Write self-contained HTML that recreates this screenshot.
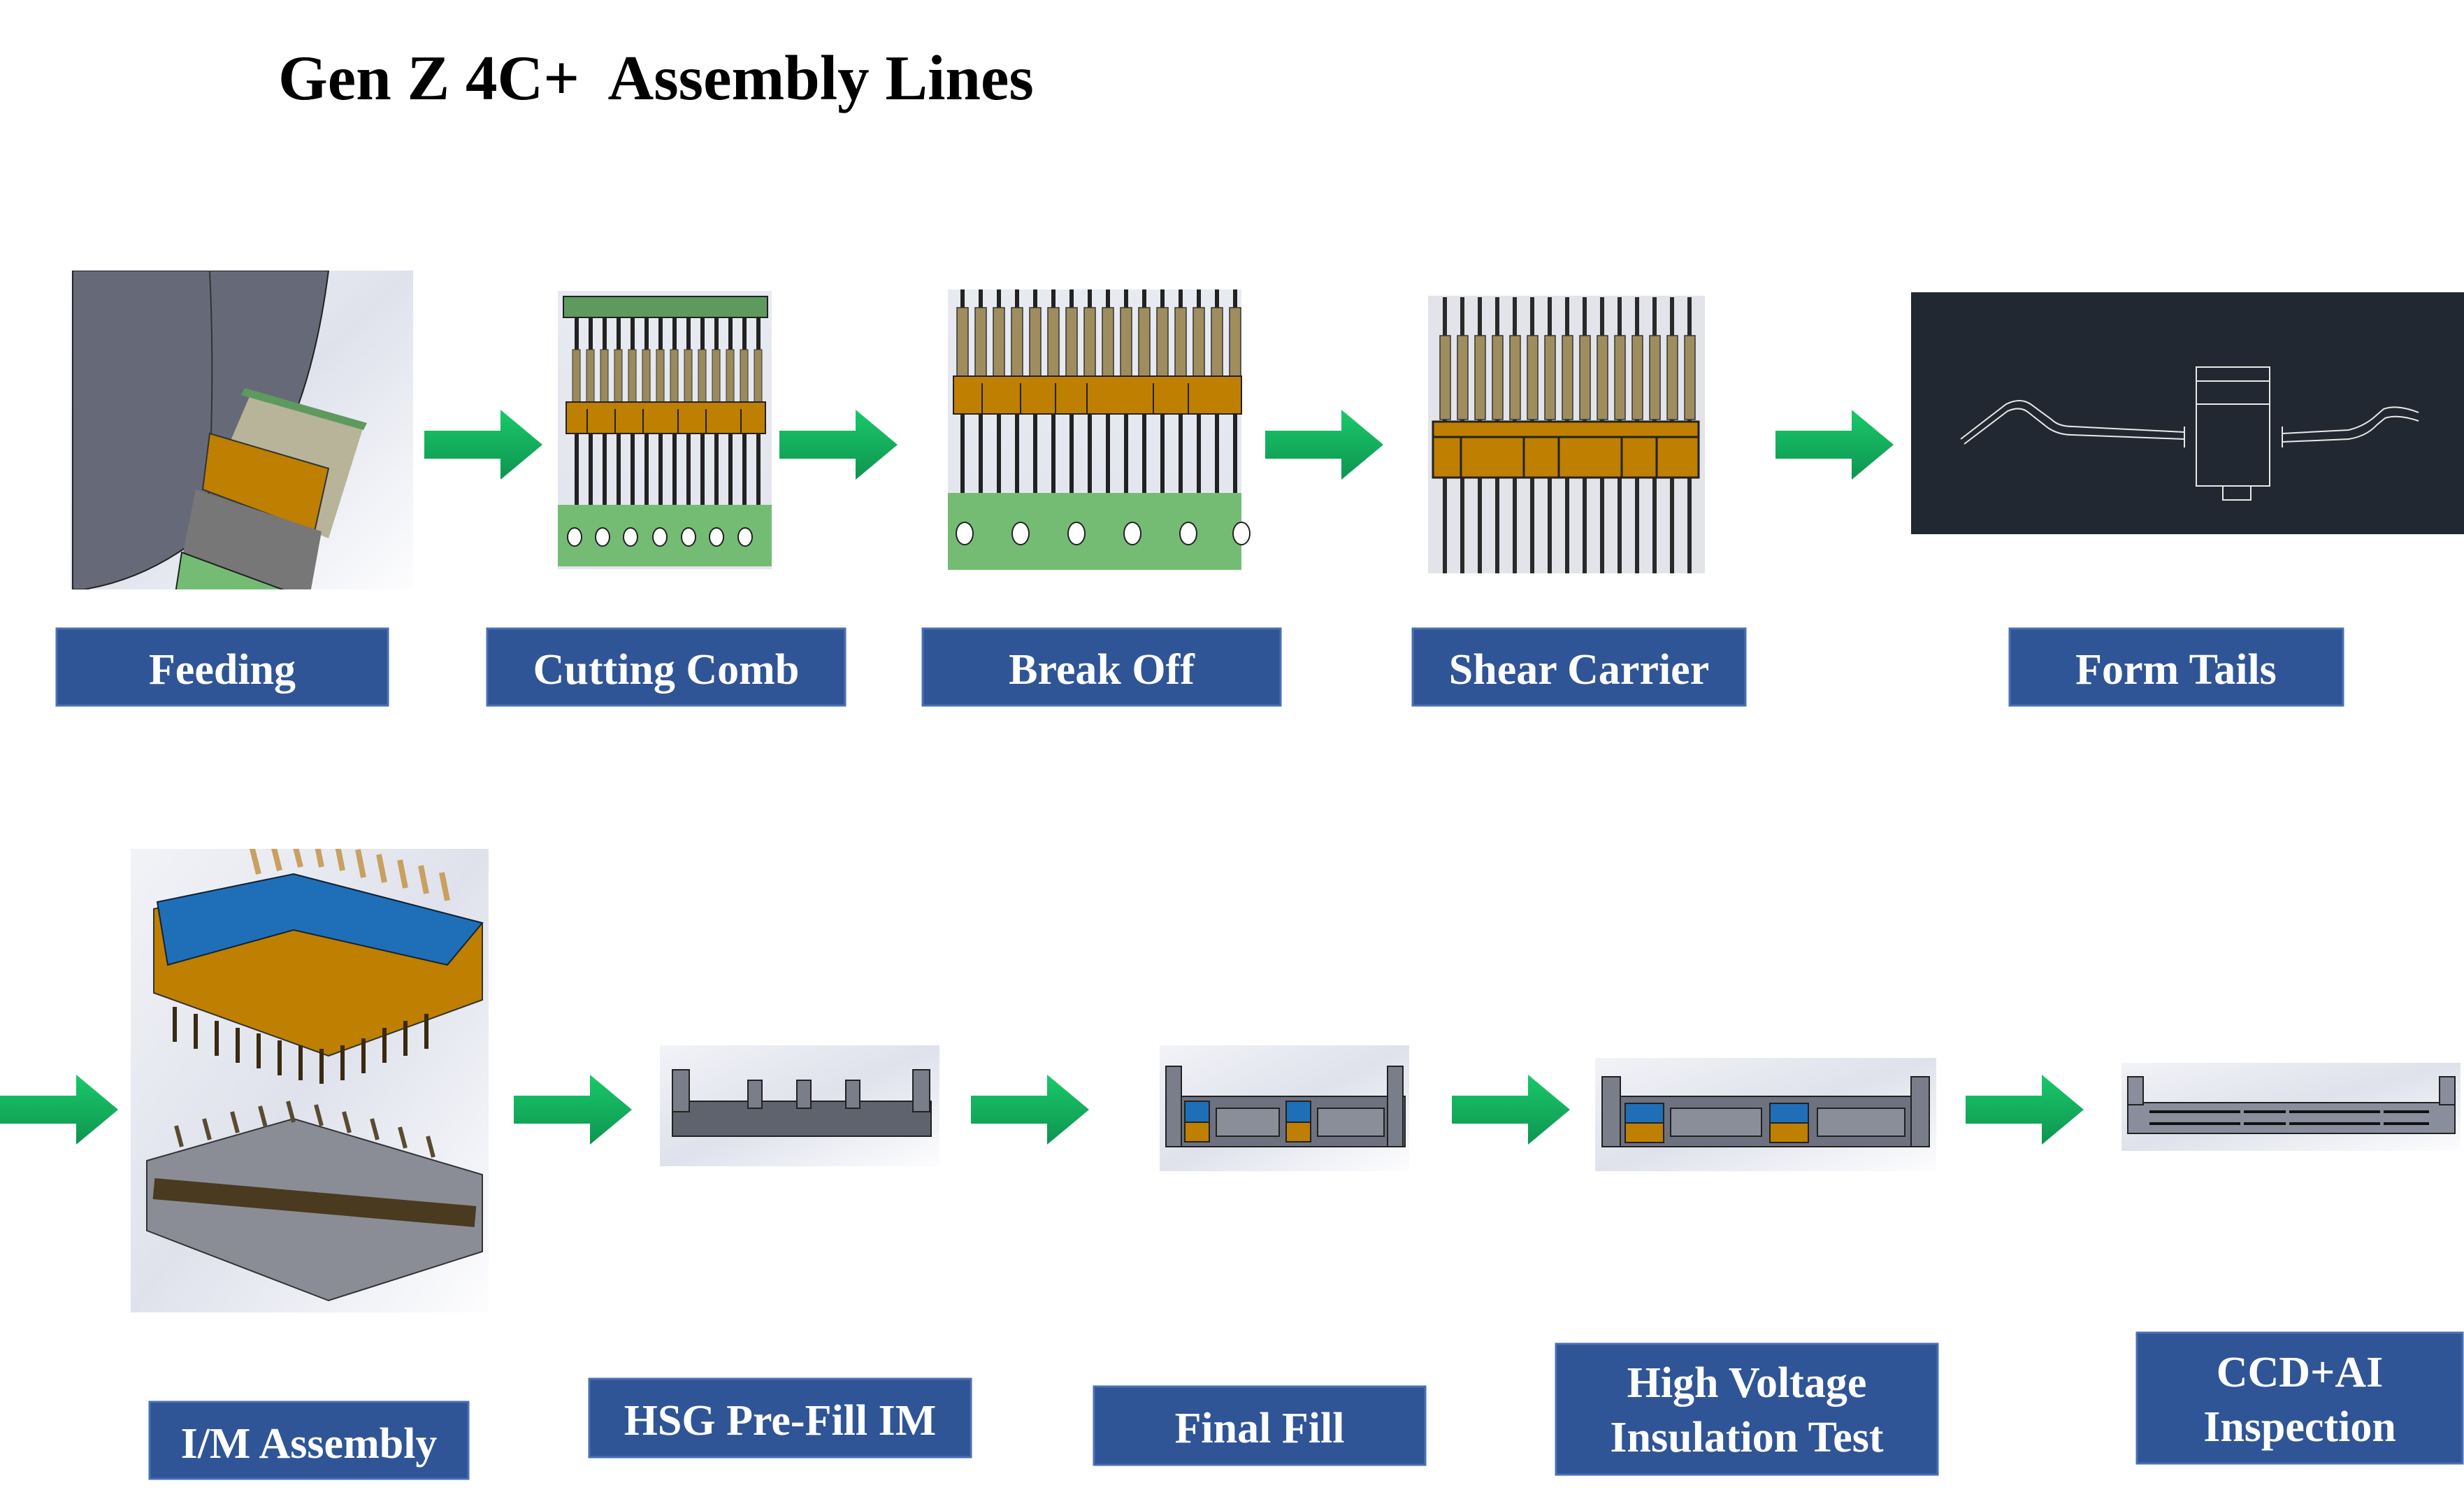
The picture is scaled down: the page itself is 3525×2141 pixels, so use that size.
<!DOCTYPE html>
<html><head><meta charset="utf-8"><style>
html,body{margin:0;padding:0;background:#fff;}
svg{display:block;}
text{font-family:"Liberation Serif",serif;font-weight:bold;}
</style></head><body>
<svg width="3525" height="2141" viewBox="0 0 3525 2141" xmlns="http://www.w3.org/2000/svg">
<defs>
<linearGradient id="ag" x1="0" y1="0" x2="0" y2="1"><stop offset="0" stop-color="#19c96a"/><stop offset="1" stop-color="#0e9450"/></linearGradient>
<linearGradient id="bg" x1="0" y1="0" x2="1" y2="1"><stop offset="0" stop-color="#f2f3f7"/><stop offset="0.5" stop-color="#dfe2ec"/><stop offset="1" stop-color="#fdfdfe"/></linearGradient>
<linearGradient id="bgv" x1="0" y1="0" x2="0" y2="1"><stop offset="0" stop-color="#e8eaf1"/><stop offset="1" stop-color="#e3e5ee"/></linearGradient>
<clipPath id="fc"><rect x="101" y="387" width="490" height="456"/></clipPath>
<clipPath id="ic"><rect x="187" y="1214" width="512" height="663"/></clipPath>
<pattern id="pins1" x="815" y="0" width="20" height="2141" patternUnits="userSpaceOnUse">
<rect x="7" y="0" width="6" height="2141" fill="#222"/><rect x="4" y="500" width="11" height="75" fill="#9a8a5c" stroke="#333" stroke-width="1"/></pattern>
<pattern id="pins2" x="1364" y="0" width="26" height="2141" patternUnits="userSpaceOnUse">
<rect x="10" width="6" height="2141" fill="#222"/><rect x="5" y="440" width="16" height="100" fill="#a08d5e" stroke="#333" stroke-width="1.5"/></pattern>
<pattern id="pins3" x="2055" y="0" width="25" height="2141" patternUnits="userSpaceOnUse">
<rect x="9" width="6" height="2141" fill="#2a2a2a"/><rect x="5" y="480" width="15" height="120" fill="#a08d5e" stroke="#333" stroke-width="1.5"/></pattern>
<g id="arrow"><polygon points="0,30 109,30 109,0 169,50 109,100 109,70 0,70" fill="url(#ag)" transform="translate(0,-50)"/></g>
</defs>

<text x="398" y="142" font-size="91" fill="#000" xml:space="preserve">Gen Z 4C+  Assembly Lines</text>

<!-- Feeding -->
<rect x="101" y="387" width="490" height="456" fill="url(#bg)"/>
<g clip-path="url(#fc)">
<path d="M104,387 L470,387 Q430,700 270,780 Q200,830 120,843 L104,843 Z" fill="#666a78" stroke="#222" stroke-width="2"/>
<path d="M300,387 Q310,600 290,820" stroke="#333" fill="none" stroke-width="2"/>
<polygon points="360,560 520,610 470,770 300,700" fill="#b8b49a"/>
<polygon points="350,555 525,605 520,615 345,565" fill="#5e9a5e"/>
<polygon points="300,620 470,670 450,760 290,700" fill="#bf7f00" stroke="#333" stroke-width="2"/>
<polygon points="280,700 460,760 440,870 260,800" fill="#777" />
<polygon points="260,790 450,860 420,1010 240,920" fill="#74bc74" stroke="#222" stroke-width="2"/>
<g fill="#fff" stroke="#222" stroke-width="2"><ellipse cx="272" cy="858" rx="9" ry="13"/><ellipse cx="298" cy="878" rx="9" ry="13"/><ellipse cx="330" cy="895" rx="9" ry="13"/></g>
</g>

<!-- Cutting Comb -->
<rect x="798" y="416" width="306" height="398" fill="url(#bgv)"/>
<rect x="815" y="453" width="282" height="270" fill="url(#pins1)"/>
<rect x="806" y="424" width="292" height="30" fill="#5e9a5e" stroke="#222" stroke-width="2"/>
<rect x="810" y="575" width="285" height="45" fill="#bf7f00" stroke="#222" stroke-width="2"/>
<g stroke="#222" stroke-width="2" fill="none"><path d="M840,585v35M880,585v35M920,585v35M970,585v35M1010,585v35M1060,585v35"/></g>
<rect x="798" y="722" width="306" height="88" fill="#74bc74"/>
<g fill="#fff" stroke="#222" stroke-width="2"><ellipse cx="822" cy="768" rx="10" ry="13"/><ellipse cx="862" cy="768" rx="10" ry="13"/><ellipse cx="902" cy="768" rx="10" ry="13"/><ellipse cx="944" cy="768" rx="10" ry="13"/><ellipse cx="985" cy="768" rx="10" ry="13"/><ellipse cx="1025" cy="768" rx="10" ry="13"/><ellipse cx="1066" cy="768" rx="10" ry="13"/></g>
<use href="#arrow" x="607" y="636"/>

<!-- Break Off -->
<rect x="1356" y="414" width="420" height="400" fill="url(#bgv)"/>
<rect x="1364" y="414" width="412" height="300" fill="url(#pins2)"/>
<rect x="1364" y="538" width="412" height="54" fill="#bf7f00" stroke="#222" stroke-width="2"/>
<g stroke="#222" stroke-width="2"><path d="M1405,548v44M1460,548v44M1510,548v44M1555,548v44M1650,548v44M1700,548v44"/></g>
<rect x="1356" y="705" width="420" height="110" fill="#74bc74"/>
<g fill="#fff" stroke="#222" stroke-width="2"><ellipse cx="1380" cy="763" rx="12" ry="16"/><ellipse cx="1460" cy="763" rx="12" ry="16"/><ellipse cx="1540" cy="763" rx="12" ry="16"/><ellipse cx="1620" cy="763" rx="12" ry="16"/><ellipse cx="1700" cy="763" rx="12" ry="16"/><ellipse cx="1776" cy="763" rx="12" ry="16"/></g>
<use href="#arrow" x="1115" y="636"/>

<!-- Shear Carrier -->
<rect x="2043" y="423" width="396" height="397" fill="#e2e4ea"/>
<rect x="2055" y="425" width="375" height="395" fill="url(#pins3)"/>
<rect x="2050" y="603" width="380" height="80" fill="#bf7f00" stroke="#222" stroke-width="3"/>
<g stroke="#222" stroke-width="3"><path d="M2090,625v58M2180,625v58M2230,625v58M2320,625v58M2370,625v58M2050,625h380"/></g>
<use href="#arrow" x="1810" y="636"/>

<!-- Form Tails -->
<rect x="2734" y="418" width="791" height="346" fill="#222831"/>
<g stroke="#e8e8e8" stroke-width="2" fill="none">
<path d="M2805,628 L2870,578 Q2890,568 2905,578 L2935,600 Q2945,610 2965,610 L3125,618 M2810,635 L2872,588 Q2890,580 2902,590 L2930,612 Q2945,622 2965,622 L3125,628"/>
<rect x="3142" y="525" width="105" height="170"/><path d="M3142,545h105 M3142,578h105 M3125,610v30 M3265,610v30 M3180,695v20h40v-20"/>
<path d="M3265,620 L3360,615 Q3380,610 3395,598 L3410,585 Q3430,578 3460,590 M3265,632 L3360,628 Q3385,624 3400,608 L3412,598 Q3430,592 3460,602"/>
</g>
<use href="#arrow" x="2540" y="636"/>

<!-- Row1 labels -->
<g fill="#2f5597" stroke="#4a6fb5" stroke-width="3">
<rect x="81" y="899" width="474" height="110"/><rect x="697" y="899" width="512" height="110"/><rect x="1320" y="899" width="512" height="110"/><rect x="2021" y="899" width="476" height="110"/><rect x="2875" y="899" width="477" height="110"/>
</g>
<g fill="#fff" font-size="62" text-anchor="middle">
<text x="318" y="978">Feeding</text><text x="953" y="978">Cutting Comb</text><text x="1576" y="978">Break Off</text><text x="2259" y="978">Shear Carrier</text><text x="3113" y="978">Form Tails</text>
</g>

<!-- Row 2 -->
<use href="#arrow" x="0" y="1587"/>
<rect x="187" y="1214" width="512" height="663" fill="url(#bg)"/>
<g clip-path="url(#ic)">
<polygon points="220,1300 420,1250 690,1320 690,1430 470,1510 220,1420" fill="#bf7f00" stroke="#333" stroke-width="2"/>
<polygon points="225,1290 420,1250 690,1320 640,1380 420,1330 240,1380" fill="#1f6fb8" stroke="#123" stroke-width="2"/>
<g stroke="#c8a060" stroke-width="8"><path d="M370,1250l-10,-40M400,1245l-10,-40M430,1240l-10,-40M460,1240l-8,-40M490,1245l-8,-40M520,1255l-8,-40M550,1262l-8,-40M580,1270l-8,-40M610,1278l-8,-40M640,1288l-8,-40"/></g>
<g stroke="#3a2a10" stroke-width="6"><path d="M250,1440v50M280,1450v50M310,1460v50M340,1470v50M370,1478v50M400,1488v50M430,1495v50M460,1500v50M490,1495v50M520,1485v50M550,1470v50M580,1460v50M610,1450v50"/></g>
<polygon points="210,1660 420,1600 690,1680 690,1790 470,1860 210,1760" fill="#8a8d96" stroke="#333" stroke-width="2"/>
<g stroke="#5a4a30" stroke-width="6"><path d="M260,1640l-8,-30M300,1630l-8,-30M340,1620l-8,-30M380,1612l-8,-30M420,1605l-8,-30M460,1610l-8,-30M500,1620l-8,-30M540,1630l-8,-30M580,1642l-8,-30M620,1655l-8,-30"/></g>
<path d="M220,1700 L680,1740" stroke="#4a3a20" stroke-width="30"/>
</g>
<use href="#arrow" x="735" y="1587"/>

<rect x="944" y="1495" width="400" height="173" fill="url(#bg)"/>
<rect x="962" y="1575" width="370" height="50" fill="#5f636e" stroke="#222" stroke-width="2"/>
<g fill="#7a7e8a" stroke="#222" stroke-width="2"><rect x="962" y="1530" width="24" height="60"/><rect x="1306" y="1530" width="24" height="60"/><rect x="1070" y="1545" width="20" height="40"/><rect x="1140" y="1545" width="20" height="40"/><rect x="1210" y="1545" width="20" height="40"/></g>
<use href="#arrow" x="1389" y="1587"/>

<rect x="1659" y="1495" width="357" height="180" fill="url(#bg)"/>
<rect x="1668" y="1568" width="342" height="72" fill="#6e7280" stroke="#222" stroke-width="2"/>
<g stroke="#222" stroke-width="2"><rect x="1668" y="1525" width="22" height="115" fill="#7a7e8a"/><rect x="1985" y="1525" width="22" height="115" fill="#7a7e8a"/>
<rect x="1695" y="1575" width="35" height="30" fill="#1f6fb8"/><rect x="1695" y="1605" width="35" height="28" fill="#bf7f00"/>
<rect x="1840" y="1575" width="35" height="30" fill="#1f6fb8"/><rect x="1840" y="1605" width="35" height="28" fill="#bf7f00"/>
<rect x="1740" y="1585" width="90" height="40" fill="#8a8e98"/><rect x="1885" y="1585" width="95" height="40" fill="#8a8e98"/></g>
<use href="#arrow" x="2077" y="1587"/>

<rect x="2282" y="1513" width="488" height="162" fill="url(#bg)"/>
<rect x="2292" y="1568" width="468" height="72" fill="#6e7280" stroke="#222" stroke-width="2"/>
<g stroke="#222" stroke-width="2"><rect x="2292" y="1540" width="26" height="100" fill="#7a7e8a"/><rect x="2734" y="1540" width="26" height="100" fill="#7a7e8a"/>
<rect x="2325" y="1578" width="55" height="28" fill="#1f6fb8"/><rect x="2325" y="1606" width="55" height="28" fill="#bf7f00"/>
<rect x="2532" y="1578" width="55" height="28" fill="#1f6fb8"/><rect x="2532" y="1606" width="55" height="28" fill="#bf7f00"/>
<rect x="2390" y="1585" width="130" height="40" fill="#8a8e98"/><rect x="2600" y="1585" width="125" height="40" fill="#8a8e98"/></g>
<use href="#arrow" x="2812" y="1587"/>

<rect x="3035" y="1520" width="485" height="126" fill="url(#bg)"/>
<rect x="3044" y="1577" width="468" height="44" fill="#8a8e9c" stroke="#222" stroke-width="2"/>
<g stroke="#222" stroke-width="2" fill="#8a8e9c"><rect x="3044" y="1540" width="22" height="40"/><rect x="3490" y="1540" width="22" height="40"/></g>
<g stroke="#111" stroke-width="4"><path d="M3075,1590h130M3075,1607h130M3210,1590h60M3210,1607h60M3275,1590h130M3275,1607h130M3410,1590h65M3410,1607h65"/></g>

<!-- Row2 labels -->
<g fill="#2f5597" stroke="#4a6fb5" stroke-width="3">
<rect x="214" y="2005" width="456" height="110"/><rect x="843" y="1972" width="546" height="112"/><rect x="1565" y="1983" width="474" height="112"/><rect x="2226" y="1922" width="546" height="187"/><rect x="3057" y="1906" width="466" height="187"/>
</g>
<g fill="#fff" font-size="62" text-anchor="middle">
<text x="442" y="2085">I/M Assembly</text><text x="1116" y="2052">HSG Pre-Fill IM</text><text x="1802" y="2063">Final Fill</text>
<text x="2499" y="1998">High Voltage</text><text x="2499" y="2076">Insulation Test</text>
<text x="3290" y="1983">CCD+AI</text><text x="3290" y="2061">Inspection</text>
</g>
</svg>
</body></html>
